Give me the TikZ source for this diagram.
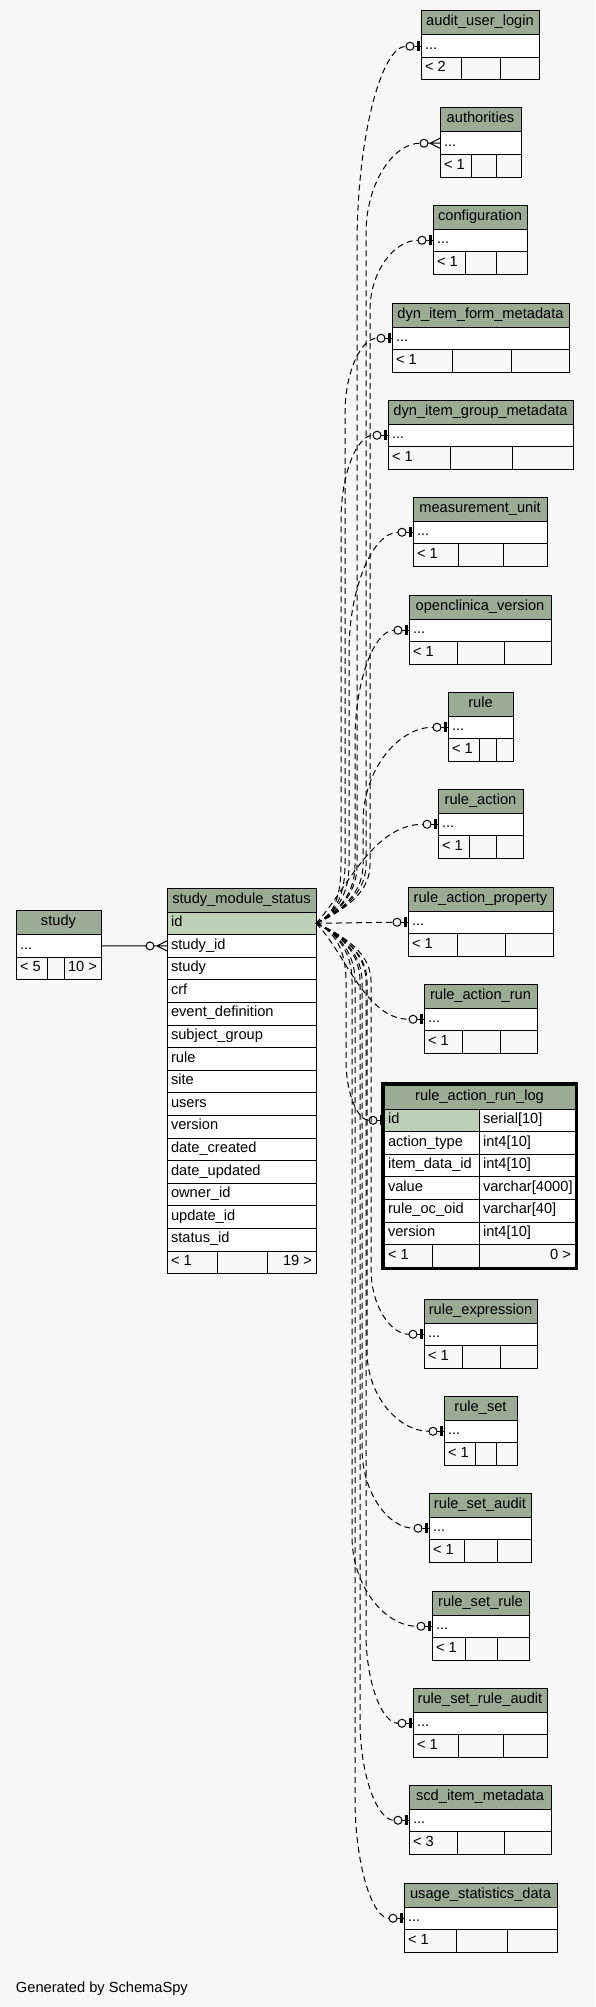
\documentclass[tikz,border=0pt]{standalone}
\usepackage{fontspec}
\setmainfont{Liberation Sans}
\usetikzlibrary{calc}
\definecolor{bg}{HTML}{F7F7F7}
\definecolor{hdr}{HTML}{9BAB96}
\definecolor{pk}{HTML}{BED1B8}

% small table: #1 id, #2 title, #3 left, #4 right, #5 top, #6 div1, #7 div2, #8 footer text
\newcommand{\stbl}[8]{%
  \pgfmathsetmacro\tw{#4-#3}%
  \pgfmathsetmacro\wa{#6-#3}%
  \pgfmathsetmacro\wb{#7-#6}%
  \pgfmathsetmacro\wc{#4-#7}%
  \node[hdrcell, minimum width=\tw pt, anchor=north west] (#1-h) at (#3,#5) {};
  \node[txt, anchor=base] (#1-ht) at ({(#3+#4)/2},#5+15) {#2};
  \node[bodycell, minimum width=\tw pt, anchor=north west] (#1) at (#3,#5+24) {};
  \node[txt, anchor=base west] (#1-dt) at (#3+4,#5+24+14.5) {...};
  \node[footcell, minimum width=\wa pt, anchor=north west] (#1-f1) at (#3,#5+46.5) {};
  \node[footcell, minimum width=\wb pt, anchor=north west] (#1-f2) at (#6,#5+46.5) {};
  \node[footcell, minimum width=\wc pt, anchor=north west] (#1-f3) at (#7,#5+46.5) {};
  \node[txt, anchor=base west] (#1-ft) at (#3+4,#5+46.5+14.5) {#8};
}
% connectors: #1 target node, #2 x of vertical run, #3 end offset from target west, #4 bend length
\newcommand{\connup}[4]{%
  \draw[conn] (sms-0.east) .. controls (334,915) and (#2,897) .. (#2,865)
    -- ($(#2,0 |- #1.west)+(0,#4)$)
    .. controls ($(#2,0 |- #1.west)+(0,0.45*#4)$) and ($(#2,0 |- #1.west)!0.5!([xshift=-#3pt]#1.west)$)
    .. ([xshift=-#3pt]#1.west);
}
\newcommand{\conndown}[4]{%
  \draw[conn] (sms-0.east) .. controls (334,931) and (#2,949) .. (#2,981)
    -- ($(#2,0 |- #1.west)+(0,-#4)$)
    .. controls ($(#2,0 |- #1.west)+(0,-0.45*#4)$) and ($(#2,0 |- #1.west)!0.5!([xshift=-#3pt]#1.west)$)
    .. ([xshift=-#3pt]#1.west);
}
% zero-or-one marker
\newcommand{\mbar}[1]{%
  \draw[mk] ([xshift=-15pt]#1.west) -- (#1.west);
  \draw[mk, fill=bg] ([xshift=-11pt]#1.west) circle (4pt);
  \draw[line width=3pt] ([xshift=-3pt,yshift=5pt]#1.west) -- ([xshift=-3pt,yshift=-5pt]#1.west);
}
% zero-or-many marker: #1 node, #2 circle offset
\newcommand{\mcrow}[2]{%
  \draw[mk] ([xshift=-10pt]#1.west) -- ([yshift=5pt]#1.west)
            ([xshift=-10pt]#1.west) -- ([yshift=-5pt]#1.west)
            ([xshift=-#2pt]#1.west) -- (#1.west);
  \draw[mk, fill=bg] ([xshift=-#2pt]#1.west) circle (4pt);
}

\begin{document}
\begin{tikzpicture}[x=1pt,y=-1pt,
  txt/.style={inner sep=0pt, outer sep=0pt, font=\fontsize{14.65}{17}\selectfont},
  hdrcell/.style={draw, fill=hdr, minimum height=24pt, inner sep=0pt, outer sep=0pt, line width=1pt},
  bodycell/.style={draw, fill=white, minimum height=22.5pt, inner sep=0pt, outer sep=0pt, line width=1pt},
  pkcell/.style={draw, fill=pk, minimum height=22.6pt, inner sep=0pt, outer sep=0pt, line width=1pt},
  footcell/.style={draw, fill=bg, minimum height=22.5pt, inner sep=0pt, outer sep=0pt, line width=1pt},
  conn/.style={line width=1pt, dash pattern=on 6pt off 4pt},
  mk/.style={line width=1pt, solid}]
\fill[bg] (0,0) rectangle (595,2007);
\useasboundingbox (0,0) rectangle (595,2007);

% ---------- study ----------
\node[hdrcell, minimum width=85pt, anchor=north west] (study-h) at (16,910.5) {};
\node[txt, anchor=base] (study-ht) at (58.5,910.5+15) {study};
\node[bodycell, minimum width=85pt, anchor=north west] (study) at (16,934.5) {};
\node[txt, anchor=base west] (study-dt) at (20,934.5+14.5) {...};
\node[footcell, minimum width=31pt, anchor=north west] (study-f1) at (16,957) {};
\node[footcell, minimum width=17pt, anchor=north west] (study-f2) at (47,957) {};
\node[footcell, minimum width=37pt, anchor=north west] (study-f3) at (64,957) {};
\node[txt, anchor=base west] (study-ft) at (20,957+14.5) {< 5};
\node[txt, anchor=base east] (study-ft3) at (97,957+14.5) {10 >};

% ---------- study_module_status ----------
\node[hdrcell, minimum width=149pt, anchor=north west] (sms-h) at (167,888) {};
\node[txt, anchor=base] (sms-ht) at (241.5,888+15) {study\_module\_status};
\node[pkcell, minimum width=149pt, anchor=north west] (sms-0) at (167,912) {};
\node[txt, anchor=base west] (sms-t0) at (171,912+14.5) {id};
\foreach \t [count=\i from 1] in {study\_id,study,crf,event\_definition,subject\_group,rule,site,users,version,date\_created,date\_updated,owner\_id,update\_id,status\_id} {
  \pgfmathsetmacro\yy{912+22.6*\i}
  \node[bodycell, minimum width=149pt, minimum height=22.6pt, anchor=north west] (sms-\i) at (167,\yy) {};
  \node[txt, anchor=base west] (sms-t\i) at (171,\yy+14.5) {\t};
}
\node[footcell, minimum width=50pt, minimum height=22.6pt, anchor=north west] (sms-f1) at (167,1251) {};
\node[footcell, minimum width=50pt, minimum height=22.6pt, anchor=north west] (sms-f2) at (217,1251) {};
\node[footcell, minimum width=49pt, minimum height=22.6pt, anchor=north west] (sms-f3) at (267,1251) {};
\node[txt, anchor=base west] (sms-ft1) at (171,1251+14.5) {< 1};
\node[txt, anchor=base east] (sms-ft3) at (312,1251+14.5) {19 >};

% ---------- right column ----------
\stbl{aul}{audit\_user\_login}{421}{539}{11}{461}{500}{< 2}
\stbl{auth}{authorities}{440}{521}{108}{471}{496}{< 1}
\stbl{conf}{configuration}{433}{527}{205}{465}{496}{< 1}
\stbl{difm}{dyn\_item\_form\_metadata}{392}{569}{303}{452}{511}{< 1}
\stbl{digm}{dyn\_item\_group\_metadata}{388}{573}{400}{450}{512}{< 1}
\stbl{mu}{measurement\_unit}{413}{547}{497}{458}{503}{< 1}
\stbl{ocv}{openclinica\_version}{409}{551}{595}{457}{504}{< 1}
\stbl{rule}{rule}{448}{513}{692}{479}{496}{< 1}
\stbl{ra}{rule\_action}{438}{523}{789}{469}{496}{< 1}
\stbl{rap}{rule\_action\_property}{408}{553}{887}{457}{505}{< 1}
\stbl{rar}{rule\_action\_run}{424}{537}{984}{462}{500}{< 1}
\stbl{rex}{rule\_expression}{424}{537}{1299}{462}{500}{< 1}
\stbl{rs}{rule\_set}{444}{517}{1396}{475}{496}{< 1}
\stbl{rsa}{rule\_set\_audit}{429}{531}{1493}{464}{497}{< 1}
\stbl{rsr}{rule\_set\_rule}{432}{529}{1591}{465}{497}{< 1}
\stbl{rsra}{rule\_set\_rule\_audit}{413}{547}{1688}{458}{503}{< 1}
\stbl{scd}{scd\_item\_metadata}{409}{551}{1785}{457}{504}{< 3}
\stbl{usd}{usage\_statistics\_data}{404}{557}{1883}{456}{507}{< 1}

% ---------- rule_action_run_log ----------
\node[hdrcell, minimum width=191pt, anchor=north west] (log-h) at (384,1085) {};
\node[txt, anchor=base] (log-ht) at (479.5,1085+15) {rule\_action\_run\_log};
\node[pkcell, minimum width=95pt, anchor=north west] (log-0) at (384,1109) {};
\node[bodycell, minimum width=96pt, minimum height=22.6pt, anchor=north west] (log-0b) at (479,1109) {};
\node[txt, anchor=base west] (log-t0) at (388,1109+14.5) {id};
\node[txt, anchor=base west] (log-u0) at (483,1109+14.5) {serial[10]};
\foreach \n/\ty [count=\i from 1] in {action\_type/int4[10],item\_data\_id/int4[10],value/varchar[4000],rule\_oc\_oid/varchar[40],version/int4[10]} {
  \pgfmathsetmacro\yy{1109+22.6*\i}
  \node[bodycell, minimum width=95pt, minimum height=22.6pt, anchor=north west] (log-\i) at (384,\yy) {};
  \node[bodycell, minimum width=96pt, minimum height=22.6pt, anchor=north west] (log-\i b) at (479,\yy) {};
  \node[txt, anchor=base west] (log-t\i) at (388,\yy+14.5) {\n};
  \node[txt, anchor=base west] (log-u\i) at (483,\yy+14.5) {\ty};
}
\node[footcell, minimum width=48pt, minimum height=22.6pt, anchor=north west] (log-f1) at (384,1244.6) {};
\node[footcell, minimum width=47pt, minimum height=22.6pt, anchor=north west] (log-f2) at (432,1244.6) {};
\node[footcell, minimum width=96pt, minimum height=22.6pt, anchor=north west] (log-f3) at (479,1244.6) {};
\node[txt, anchor=base west] (log-ft1) at (388,1244.6+14.5) {< 1};
\node[txt, anchor=base east] (log-ft3) at (571,1244.6+14.5) {0 >};
\node[draw, line width=3pt, minimum width=194pt, minimum height=185pt, inner sep=0pt, outer sep=0pt, anchor=north west] (log) at (382.5,1083.5) {};

% ---------- connectors ----------
\draw[mk] (study.east) -- ([xshift=-21pt]sms-1.west);
\mcrow{sms-1}{17}

\connup{aul}{357}{15}{200}    \mbar{aul}
\connup{auth}{366}{20}{90}    \mcrow{auth}{16}
\connup{conf}{370}{15}{70}    \mbar{conf}
\connup{difm}{345}{15}{75}    \mbar{difm}
\connup{digm}{341}{15}{85}    \mbar{digm}
\connup{mu}{349}{15}{120}     \mbar{mu}
\connup{ocv}{355}{15}{110}    \mbar{ocv}
\connup{rule}{363}{15}{95}    \mbar{rule}
\draw[conn] (sms-0.east) .. controls (345,893) and (372,824.25) .. ([xshift=-15pt]ra.west); \mbar{ra}
\draw[conn] (sms-0.east) -- ([xshift=-15pt]rap.west); \mbar{rap}
\draw[conn] (sms-0.east) .. controls (345,952) and (365,1019.25) .. ([xshift=-15pt]rar.west); \mbar{rar}
\conndown{log-0}{346}{15}{60} \mbar{log-0}
\conndown{rex}{371}{15}{65}   \mbar{rex}
\conndown{rs}{367}{15}{80}    \mbar{rs}
\conndown{rsa}{362}{15}{80}   \mbar{rsa}
\conndown{rsr}{352}{15}{90}   \mbar{rsr}
\conndown{rsra}{366}{15}{90}  \mbar{rsra}
\conndown{scd}{360}{15}{100}  \mbar{scd}
\conndown{usd}{355}{15}{120}  \mbar{usd}

\node[txt, anchor=base west] (gen) at (16,1992) {Generated by SchemaSpy};
\end{tikzpicture}
\end{document}
